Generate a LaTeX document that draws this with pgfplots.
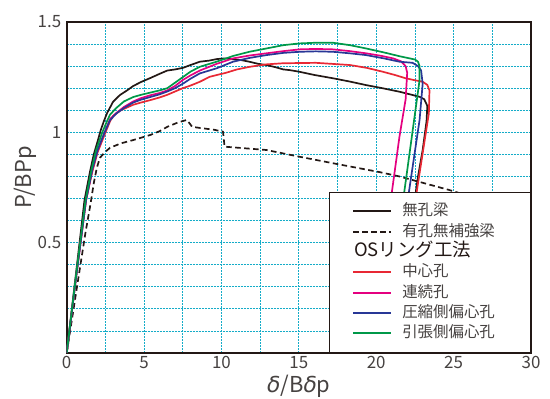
\documentclass[border=0pt]{standalone}
\usepackage{fontspec}
\setmainfont{Noto Sans CJK JP}
\newfontfamily\dejavu{DejaVu Sans}
\usepackage{pgfplots}
\pgfplotsset{compat=1.18}
\definecolor{gridcyan}{RGB}{20,172,200}
\definecolor{frameblack}{RGB}{35,24,21}
\definecolor{labelgray}{RGB}{70,66,65}
\definecolor{cred}{RGB}{232,40,52}
\definecolor{cmag}{RGB}{228,0,127}
\definecolor{cblue}{RGB}{40,55,150}
\definecolor{cgreen}{RGB}{0,152,72}
\pgfplotsset{dl/.style={line width=1.7bp, line join=round}}
\begin{document}
\begin{tikzpicture}
\begin{axis}[
  at={(66.7bp,46bp)}, anchor=south west,
  scale only axis, width=464.3bp, height=331bp,
  xmin=0, xmax=30, ymin=0, ymax=1.5,
  xtick={0,5,...,30}, xticklabels={0,5,10,15,20,25,30}, minor x tick num=1,
  ytick={0,0.5,1,1.5}, yticklabels={,0.5,1,1.5}, minor y tick num=4,
  grid=both,
  grid style={draw=gridcyan, line width=0.8bp, dash pattern=on 2bp off 1bp},
  major tick length=0pt, minor tick length=0pt,
  axis line style={draw=frameblack, line width=1.6bp},
  /pgf/number format/assume math mode=true,
  tick label style={font=\fontsize{17}{17}\selectfont, text=labelgray},
  yticklabel style={xshift=-2bp},
  ylabel={P/BPp},
  xlabel={{\dejavu\itshape δ}/B{\dejavu\itshape δ}p},
  label style={font=\fontsize{22}{22}\selectfont, text=labelgray},
  ylabel style={at={(axis description cs:-0.09,0.53)}, anchor=center},
  xlabel style={at={(axis description cs:0.5,-0.1)}, anchor=center},
  legend image code/.code={\draw[#1, line width=2bp] (0bp,0bp) -- (38bp,0bp);},
  legend cell align=left,
  legend style={at={(1,0)}, anchor=south east, draw=frameblack, line width=1.5bp,
    fill=white, inner xsep=23bp, inner ysep=11.5bp, row sep=5.3bp,
    font=\fontsize{15.5}{15.5}\selectfont, text=labelgray,
    nodes={inner sep=0pt, text height=12bp, text depth=3bp},
    /tikz/every odd column/.append style={column sep=10bp}},
]
% 無孔梁
\addplot[frameblack, dl] coordinates {
(0,0) (0.6,0.36) (1.15,0.693) (1.5,0.82) (1.75,0.9) (2.0,0.96) (2.2,1.01) (2.4,1.05) (2.6,1.086)
(3.0,1.139) (3.44,1.169) (3.9,1.19) (4.3,1.21) (4.8,1.228) (5.4,1.246) (6.0,1.265) (6.5,1.28)
(7.0,1.285) (7.5,1.292) (8.0,1.305) (8.6,1.32) (9.2,1.325) (9.7,1.332) (10.2,1.335) (10.75,1.331)
(11.3,1.327) (11.8,1.32) (12.4,1.31) (12.9,1.305) (13.5,1.295) (14.0,1.285) (14.4,1.282) (15.0,1.275)
(16.0,1.26) (17.2,1.245) (18.3,1.23) (19.35,1.214) (20.4,1.2) (21.5,1.184) (22.3,1.17) (22.8,1.161)
(23.1,1.15) (23.3,1.12) (23.25,1.05) (23.0,0.92) (22.7,0.8) (22.5,0.7)};
\addlegendentry{\makebox[105bp][l]{無孔梁}}
% 有孔無補強梁
\addplot[frameblack, dl, dash pattern=on 5.5bp off 3.5bp] coordinates {
(0,0) (0.6,0.27) (1.2,0.54) (1.55,0.68) (1.75,0.77) (1.95,0.84) (2.15,0.885) (2.5,0.912) (2.8,0.93)
(3.5,0.95) (4.3,0.965) (5.4,0.988) (6.0,1.005) (6.5,1.025) (7.2,1.045) (7.75,1.056) (7.95,1.04)
(8.1,1.025) (8.6,1.02) (9.5,1.012) (10.1,1.003) (10.2,0.935) (12.9,0.92) (15.0,0.89) (17.2,0.86)
(20.2,0.82) (21.5,0.8) (24.7,0.739) (25.4,0.724) (26.3,0.7)};
\addlegendentry{\makebox[105bp][l]{有孔無補強梁}}
\addlegendimage{empty legend}
\addlegendentry{\makebox[105bp][l]{\hspace{-48bp}\fontsize{18.5}{18.5}\selectfont\color{frameblack}OSリング工法}}
% 中心孔
\addplot[cred, dl] coordinates {
(0,0) (0.6,0.34) (1.25,0.693) (1.65,0.82) (2.0,0.91) (2.45,0.99) (2.8,1.05) (3.0,1.075) (3.5,1.1)
(4.3,1.125) (4.8,1.135) (5.4,1.146) (6.0,1.158) (6.5,1.17) (7.0,1.185) (7.5,1.2) (8.0,1.212) (8.6,1.229)
(9.25,1.252) (10.3,1.27) (11.0,1.285) (11.83,1.297) (12.9,1.308) (13.97,1.313) (16.1,1.315) (18.3,1.305)
(19.4,1.292) (20.4,1.275) (21.2,1.26) (21.9,1.245) (22.5,1.236) (23.0,1.229) (23.3,1.215) (23.44,1.19)
(23.4,1.086) (22.6,0.724) (22.55,0.7)};
\addlegendentry{\makebox[105bp][l]{中心孔}}
% 連続孔
\addplot[cmag, dl] coordinates {
(0,0) (0.6,0.34) (1.25,0.693) (1.65,0.83) (2.0,0.92) (2.45,1.0) (2.8,1.06) (3.2,1.087) (3.7,1.115)
(4.3,1.14) (4.8,1.155) (5.4,1.168) (6.0,1.178) (6.5,1.19) (7.0,1.21) (7.5,1.237) (8.0,1.258) (8.6,1.28)
(9.68,1.31) (10.75,1.335) (11.8,1.348) (12.9,1.358) (14.0,1.368) (15.05,1.376) (16.1,1.378) (17.2,1.376)
(18.3,1.368) (19.35,1.358) (20.3,1.347) (21.1,1.335) (21.6,1.322) (21.9,1.3) (22.0,1.27) (21.9,1.15)
(21.5,0.98) (21.0,0.724) (20.96,0.7)};
\addlegendentry{\makebox[105bp][l]{連続孔}}
% 圧縮側偏心孔
\addplot[cblue, dl] coordinates {
(0,0) (0.6,0.34) (1.25,0.693) (1.65,0.83) (2.0,0.92) (2.45,1.0) (2.8,1.055) (3.2,1.085) (3.7,1.11)
(4.3,1.135) (4.8,1.148) (5.4,1.16) (6.0,1.172) (6.5,1.185) (7.0,1.2) (7.5,1.22) (8.0,1.243) (8.6,1.267)
(9.68,1.29) (10.75,1.32) (11.8,1.337) (12.9,1.35) (14.0,1.36) (15.05,1.365) (16.1,1.367) (17.2,1.365)
(18.3,1.358) (19.35,1.35) (20.5,1.335) (21.5,1.32) (22.35,1.315) (22.7,1.3) (22.9,1.28) (23.0,1.22)
(22.8,1.056) (22.1,0.724) (22.06,0.7)};
\addlegendentry{\makebox[105bp][l]{圧縮側偏心孔}}
% 引張側偏心孔
\addplot[cgreen, dl] coordinates {
(0,0) (0.6,0.35) (1.22,0.693) (1.6,0.83) (1.9,0.92) (2.3,1.0) (2.6,1.05) (2.8,1.08) (3.2,1.11)
(3.7,1.14) (4.3,1.16) (4.8,1.17) (5.4,1.18) (6.0,1.19) (6.5,1.2) (7.0,1.225) (7.5,1.25) (8.0,1.275)
(8.6,1.297) (9.68,1.32) (10.75,1.346) (11.8,1.365) (12.9,1.38) (14.0,1.395) (15.05,1.403) (16.1,1.406)
(17.2,1.406) (18.3,1.395) (19.35,1.38) (20.5,1.362) (21.5,1.345) (22.5,1.33) (22.7,1.32) (22.8,1.3)
(22.8,1.237) (21.8,0.724) (21.75,0.7)};
\addlegendentry{\makebox[105bp][l]{引張側偏心孔}}
\end{axis}
\pgfresetboundingbox
\path[use as bounding box] (0,0) rectangle (550bp,399bp);
\end{tikzpicture}
\end{document}
